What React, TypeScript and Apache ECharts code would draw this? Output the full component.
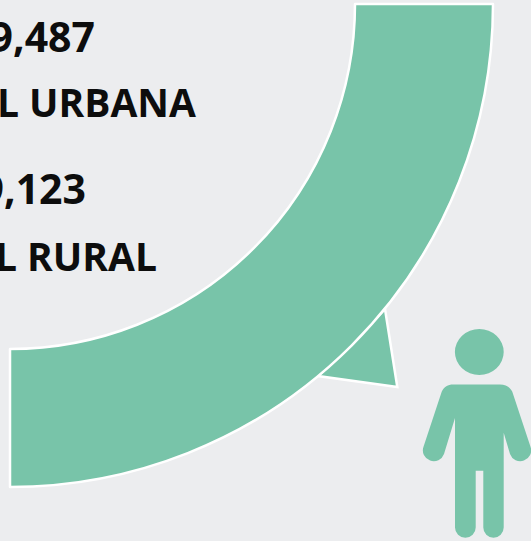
import React, { useEffect, useRef } from "react";
import * as echarts from "echarts";

const sliceNames = ["Urbana", "Resto"];
const sliceValues = [25, 75];
const textLines = ["9,487", "L URBANA", "9,123", "L RURAL"];
const textRight = [95, 196, 86, 157];
const textBaseline = [56.5, 121, 208.5, 275];
const textSizes = [41, 39, 41, 39];
const GREEN = "#78C4A9";
const BG = "#ECEDEF";
const personPath =
  "M453 384.5 L 500 384.5 C 506 384.5 510 387 512.3 391.7 L 530.5 446.7 A 10.5 10.5 0 0 1 510 454 L 503.7 432.7 L 503.7 527.5 A 10.2 10.2 0 0 1 483.3 527.5 L 483.3 470.7 L 475.7 470.7 L 475.7 527.5 A 10.3 10.3 0 0 1 455 527.5 L 455 418 L 444 454 A 10.5 10.5 0 0 1 423.5 446.7 L 441.7 391.7 C 444 387 448 384.5 453 384.5 Z M 479.3 329 A 24.4 23 0 1 1 479.3 375 A 24.4 23 0 1 1 479.3 329 Z";

echarts.graphic.registerShape("person", echarts.graphic.extendPath(personPath, {}));

export default function App() {
  const ref = useRef<HTMLDivElement>(null);
  useEffect(() => {
    document.body.style.margin = "0";
    document.body.style.overflow = "hidden";
    const chart = echarts.init(ref.current!, null, { renderer: "svg" });
    chart.setOption({
      animation: false,
      backgroundColor: BG,
      series: [
        {
          type: "pie",
          silent: true,
          center: [10, 4],
          radius: [345, 483],
          startAngle: 0,
          clockwise: true,
          label: { show: false },
          labelLine: { show: false },
          data: sliceValues.map((value, i) => ({
            name: sliceNames[i],
            value,
            itemStyle:
              i === 0
                ? { color: GREEN, borderColor: "#FFFFFF", borderWidth: 2.5 }
                : { color: "transparent", borderWidth: 0 },
          })),
        },
      ],
      graphic: [
        {
          type: "polygon",
          silent: true,
          z: 1,
          shape: { points: [[385, 309], [397.3, 387], [318, 376]] },
          style: { fill: GREEN, stroke: "#FFFFFF", lineWidth: 2.5 },
        },
        {
          type: "person",
          silent: true,
          x: 0,
          y: 0,
          style: { fill: GREEN },
        },
        ...textLines.map((text, i) => ({
          type: "text",
          silent: true,
          x: textRight[i],
          y: textBaseline[i],
          style: {
            text,
            fill: "#0D0D0D",
            font: `bold ${textSizes[i]}px 'Open Sans'`,
            textAlign: "right",
            textVerticalAlign: "bottom",
          },
        })),
      ],
    });
    return () => chart.dispose();
  }, []);
  return <div ref={ref} style={{ width: 531, height: 541 }} />;
}
